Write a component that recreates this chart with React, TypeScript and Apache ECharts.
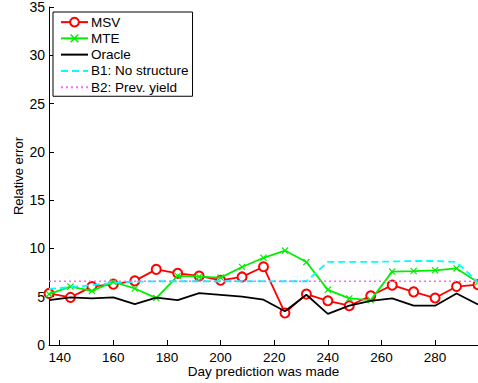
import React, { useEffect, useRef } from "react";
import * as echarts from "echarts";

const days = [136, 144, 152, 160, 168, 176, 184, 192, 200, 208, 216, 224, 232, 240, 248, 256, 264, 272, 280, 288, 296];
const msv = [5.34, 4.93, 6.05, 6.3, 6.64, 7.83, 7.42, 7.15, 6.7, 7.05, 8.1, 3.32, 5.27, 4.58, 4.07, 5.1, 6.2, 5.5, 4.86, 6.05, 6.25];
const mte = [5.27, 6.05, 5.6, 6.53, 5.85, 4.86, 7.15, 7.08, 6.98, 8.08, 9.03, 9.78, 8.59, 5.71, 4.82, 4.65, 7.6, 7.66, 7.73, 7.93, 6.5];
const oracle = [4.65, 4.93, 4.82, 4.93, 4.24, 4.9, 4.65, 5.37, 5.2, 5.0, 4.69, 3.49, 5.2, 3.22, 4.07, 4.58, 4.82, 4.07, 4.07, 5.34, 4.2];
const b1 = [5.8, 6.0, 6.2, 6.45, 6.55, 6.6, 6.6, 6.6, 6.6, 6.6, 6.6, 6.6, 6.6, 8.6, 8.6, 8.6, 8.65, 8.7, 8.7, 8.6, 6.5];
const b2 = [6.6, 6.6, 6.6, 6.6, 6.6, 6.6, 6.6, 6.6, 6.6, 6.6, 6.6, 6.6, 6.6, 6.6, 6.6, 6.6, 6.6, 6.6, 6.6, 6.6, 6.6];
const xTicks = [140, 160, 180, 200, 220, 240, 260, 280];
const seriesNames = ["MSV", "MTE", "Oracle", "B1: No structure", "B2: Prev. yield"];

const FONT = "'Liberation Sans', Arial, Helvetica, sans-serif";
const CROSS = "path://M0,1.2L1.2,0L5,3.8L8.8,0L10,1.2L6.2,5L10,8.8L8.8,10L5,6.2L1.2,10L0,8.8L3.8,5Z";

const pairs = (vals: number[]) => days.map((d, i) => [d, vals[i]]);

export default function App() {
  const ref = useRef<HTMLDivElement>(null);
  useEffect(() => {
    if (!ref.current) return;
    const chart = echarts.init(ref.current, undefined, { renderer: "svg" });
    const hidden = { color: "rgba(0,0,0,0)", borderWidth: 0 };
    chart.setOption({
      animation: false,
      backgroundColor: "#fff",
      grid: { left: 49, top: 7, right: -3, bottom: 35, containLabel: false },
      legend: {
        orient: "vertical",
        left: 53,
        top: 12,
        itemWidth: 27,
        itemHeight: 11,
        itemGap: 0,
        padding: [2, 4, 1, 7],
        borderColor: "#000",
        borderWidth: 1,
        backgroundColor: "#fff",
        textStyle: { fontFamily: FONT, fontSize: 13.5, color: "#000", lineHeight: 16.25, padding: [0, 0, 0, -2] },
        data: [
          { name: seriesNames[0] },
          { name: seriesNames[1] },
          { name: seriesNames[2], itemStyle: hidden },
          { name: seriesNames[3], itemStyle: hidden },
          { name: seriesNames[4], itemStyle: hidden },
        ],
      },
      xAxis: {
        type: "value",
        min: 136,
        max: 296,
        name: "Day prediction was made",
        nameLocation: "middle",
        nameGap: 19,
        nameMoveOverlap: false,
        nameTextStyle: { fontFamily: FONT, fontSize: 13.5, color: "#000", verticalAlign: "top" },
        axisLine: { show: true, onZero: false, lineStyle: { color: "#000", width: 1 } },
        axisTick: { show: true, inside: true, length: 5, customValues: xTicks, lineStyle: { color: "#000" } },
        axisLabel: { customValues: xTicks, margin: 5, fontFamily: FONT, fontSize: 13.5, color: "#000" },
        splitLine: { show: false },
      },
      yAxis: {
        type: "value",
        min: 0,
        max: 35,
        interval: 5,
        name: "Relative error",
        nameLocation: "middle",
        nameGap: 24,
        nameMoveOverlap: false,
        nameTextStyle: { fontFamily: FONT, fontSize: 13, color: "#000" },
        axisLine: { show: true, onZero: false, lineStyle: { color: "#000", width: 1 } },
        axisTick: { show: true, inside: true, length: 5, lineStyle: { color: "#000" } },
        axisLabel: { margin: 4, fontFamily: FONT, fontSize: 14, color: "#000" },
        splitLine: { show: false },
      },
      series: [
        {
          name: seriesNames[0],
          type: "line",
          data: pairs(msv),
          symbol: "emptyCircle",
          symbolSize: 9,
          color: "#ff0000",
          lineStyle: { color: "#ff0000", width: 1.8 },
          itemStyle: { color: "#ff0000", borderColor: "#ff0000", borderWidth: 1.5 },
          z: 2,
        },
        {
          name: seriesNames[1],
          type: "line",
          data: pairs(mte),
          symbol: CROSS,
          symbolSize: 7,
          color: "#00ee00",
          lineStyle: { color: "#00ee00", width: 1.8 },
          itemStyle: { color: "#00ee00" },
          z: 3,
        },
        {
          name: seriesNames[2],
          type: "line",
          data: pairs(oracle),
          symbol: "none",
          color: "#000",
          lineStyle: { color: "#000", width: 1.8 },
          z: 4,
        },
        {
          name: seriesNames[3],
          type: "line",
          data: pairs(b1),
          symbol: "none",
          color: "#00ffff",
          lineStyle: { color: "#00ffff", width: 1.8, type: [7, 4] },
          z: 5,
        },
        {
          name: seriesNames[4],
          type: "line",
          data: pairs(b2),
          symbol: "none",
          color: "#ff66ff",
          lineStyle: { color: "#ff66ff", width: 1.5, type: [2, 3] },
          z: 6,
        },
      ],
    });
    return () => chart.dispose();
  }, []);
  return <div ref={ref} style={{ position: "absolute", left: 0, top: 0, width: 478, height: 383 }} />;
}
